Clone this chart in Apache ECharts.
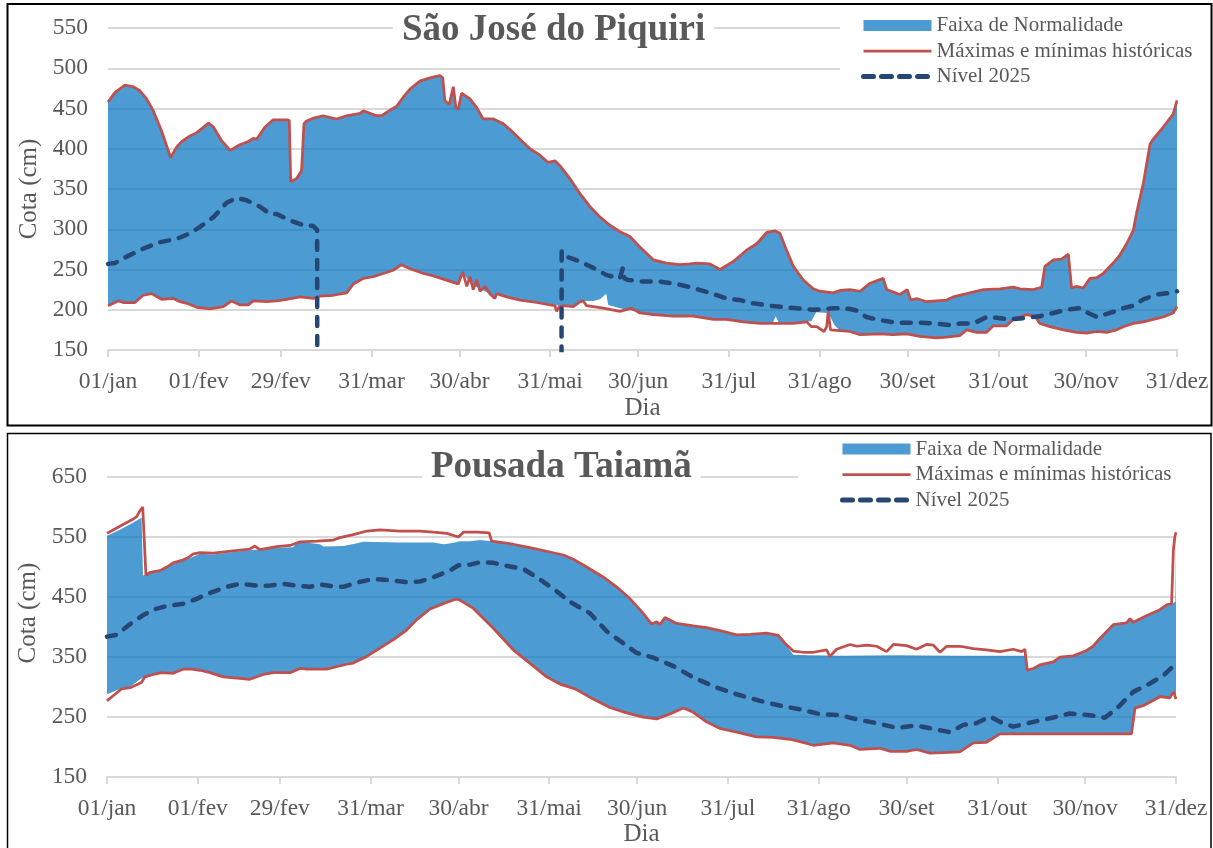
<!DOCTYPE html>
<html>
<head>
<meta charset="utf-8">
<script src="https://cdn.jsdelivr.net/npm/echarts@6/dist/echarts.min.js"></script>
<style>
  html, body { margin: 0; padding: 0; background: #fff; }
  #chart { width: 1213px; height: 848px; }
</style>
</head>
<body>
<div id="chart"></div>
<script>
// Day-of-year ticks (leap-year calendar) and their labels
const TICK_DAYS = [0, 31, 59, 90, 120, 151, 181, 212, 243, 273, 304, 334, 365];
const TICK_LABELS = ['01/jan', '01/fev', '29/fev', '31/mar', '30/abr', '31/mai', '30/jun',
                     '31/jul', '31/ago', '30/set', '31/out', '30/nov', '31/dez'];
const Y_TICKS_TAIAMA = [150, 250, 350, 450, 550, 650];

// ---- São José do Piquiri: [day, cota cm] ----
const SJP_MAX = [[0,458],[2.4,470],[5.8,479],[8.6,477],[10.9,472],[13.2,462],[15.5,447],[18.3,422],[21.4,389],[23.4,402],[25.2,409],[28,416],[30.3,420],[32,425],[34.3,432],[36,427],[38.8,410],[41.7,398],[45,405],[47.9,409],[49.6,413],[50.8,412],[53.6,427],[56.4,436],[61.2,436],[61.9,435],[62.4,359],[64.4,363],[66.1,373],[66.9,431],[67.6,434],[70.1,438],[73.5,441],[78,437],[81.5,441],[86,444],[87.2,447],[91.7,441],[93.4,441],[96.3,448],[98.6,453],[100.8,464],[103.1,474],[106.5,484],[109.9,488],[113.3,491],[114.3,488],[115,460],[116.5,455],[117.9,477],[118.8,451],[119.6,449],[120.7,469],[123.6,462],[125.9,451],[128.1,437],[131.6,437],[135,431],[138.4,420],[141.2,410],[144.1,400],[147.5,392],[150.3,383],[152.6,385],[154.3,379],[157.7,363],[161.2,344],[164.6,328],[168,315],[171.4,305],[174.8,297],[178.2,291],[181.6,278],[186.2,262],[190.7,258],[195.3,256],[198.7,257],[201,258],[205.5,257],[209,250],[213.5,260],[218,274],[221.5,282],[224.9,296],[227.7,298],[229.4,295],[231.7,274],[234,254],[237.4,237],[240.8,226],[243.1,223],[247.6,221],[249.9,224],[253.3,225],[256.8,223],[260.2,233],[264.7,239],[265.9,225],[270.4,219],[272.9,225],[274.1,212],[276.1,214],[279.5,210],[286.3,212],[288.6,216],[293.2,220],[298.9,225],[304.6,226],[309.1,228],[311.4,226],[315.9,225],[318.8,228],[319.9,254],[322.8,262],[325.6,263],[327.9,269],[329,227],[330.7,229],[333,227],[335.3,239],[337.6,240],[339.8,245],[343.2,258],[345.5,268],[347.8,282],[350.1,299],[351.2,320],[353.5,357],[355.8,406],[356.9,412],[360.3,427],[363.7,443],[365,460]];
const SJP_MIN = [[0,205],[3.5,211],[5.2,209],[9.2,209],[12,218],[14.9,220],[18.3,213],[22.3,214],[24.6,210],[26.9,208],[30.3,203],[34.8,201],[39.4,204],[42.2,211],[45.1,206],[47.9,206],[49.6,211],[54.2,210],[57.6,211],[61,213],[65.5,216],[70.1,214],[72.4,217],[76.9,218],[81.5,221],[83.8,232],[87.2,239],[90.6,241],[94,245],[97.4,249],[100.2,256],[103.1,251],[107.7,245],[111.1,242],[114.5,238],[117.9,234],[119.6,232],[121.1,247],[122.5,229],[123.6,241],[124.7,225],[125.9,237],[127,223],[128.7,229],[130.4,220],[132.1,214],[132.7,220],[136.1,216],[140.7,212],[146.4,209],[150.9,206],[152.6,205],[153.2,198],[154.1,204],[155.5,205],[158.9,204],[161.2,210],[162.3,211],[163.4,205],[169.1,202],[174.8,198],[178.8,202],[181.6,196],[186.2,194],[193,192],[199.8,192],[206.7,188],[211.2,188],[216.9,185],[222.6,183],[228.3,183],[234,183],[238.5,185],[240.2,179],[242,179],[244.5,173],[245.4,179],[245.9,198],[246.7,175],[249.9,174],[253.3,173],[256.8,169],[263.6,170],[268.1,169],[272.7,170],[277.2,167],[282.9,165],[286.3,166],[290.9,168],[293.2,175],[296.6,172],[300,172],[302.3,180],[306.8,180],[309.1,188],[312,192],[313.7,194],[316.5,192],[318.2,183],[321.6,179],[326.2,175],[330.7,172],[334.1,171],[337.6,173],[341,172],[344.4,175],[346.7,179],[350.1,183],[353.5,185],[356.9,188],[360.3,191],[363.7,196],[365,204]];
const SJP_FAIXA_SUP = SJP_MAX;
const SJP_FAIXA_INF = [[0,205],[3.5,211],[5.2,209],[9.2,209],[12,218],[14.9,220],[18.3,213],[22.3,214],[24.6,210],[26.9,208],[30.3,203],[34.8,201],[39.4,204],[42.2,211],[45.1,206],[47.9,206],[49.6,211],[54.2,210],[57.6,211],[61,213],[65.5,216],[70.1,214],[72.4,217],[76.9,218],[81.5,221],[83.8,232],[87.2,239],[90.6,241],[94,245],[97.4,249],[100.2,256],[103.1,251],[107.7,245],[111.1,242],[114.5,238],[117.9,234],[119.6,232],[121.1,246],[124,232],[127,226],[130.4,220],[132.1,214],[132.7,220],[136.1,216],[140.7,212],[146.4,209],[150.9,206],[155.5,205],[158.9,204],[161.2,211],[165.7,211],[168,213],[170.1,220],[170.8,206],[174.8,202],[181.6,197],[186.2,194],[193,192],[199.8,192],[206.7,188],[211.2,188],[216.9,185],[222.6,183],[227,184],[228,192],[229,184],[234,183],[238.5,185],[240.2,186],[241.8,197],[246,196],[248,181],[249.9,174],[253.3,173],[256.8,169],[263.6,170],[268.1,169],[272.7,170],[277.2,167],[282.9,165],[286.3,166],[290.9,168],[293.2,175],[296.6,172],[300,172],[302.3,180],[306.8,180],[309.1,188],[312,192],[313.7,194],[316.5,192],[318.2,183],[321.6,179],[326.2,175],[330.7,172],[334.1,171],[337.6,173],[341,172],[344.4,175],[346.7,179],[350.1,183],[353.5,185],[356.9,188],[360.3,191],[363.7,196],[365,204]];
// 0 = no reading (the line drops out of the visible range)
const SJP_NIVEL = [[0,257],[2.4,258],[6.4,266],[12.1,276],[17.8,284],[23.4,288],[28,295],[31.4,303],[36,315],[40.5,333],[43.9,339],[47.3,336],[51.9,328],[55.3,319],[57.6,319],[62.1,311],[66.7,305],[70.1,304],[71.4,299],[71.5,0],[154.8,0],[154.9,273],[156.6,266],[161.2,260],[165.7,252],[170.3,243],[174.8,239],[175.8,252],[176.3,239],[177.6,237],[182.8,235],[188.5,235],[194.2,232],[199.8,227],[205.5,221],[211.2,214],[215.8,212],[220.3,208],[226,205],[231.7,203],[237.4,201],[240.8,200],[245.4,201],[247.6,202],[253.3,201],[255.6,199],[259,191],[263.6,187],[269.3,184],[276.1,184],[281.8,183],[287.5,181],[290.9,183],[295.5,183],[300,191],[303.4,190],[308,188],[313.7,190],[318.2,192],[322.8,196],[327.3,200],[331.9,202],[334.1,197],[337.6,191],[342.1,196],[346.7,202],[350.1,205],[353.5,213],[358.1,219],[362.6,221],[365,223]];

// ---- Pousada Taiamã: [day, cota cm] ----
const PT_MAX = [[0,556],[4.4,568],[9,580],[10.1,584],[11.3,594],[12.2,600],[12.6,598],[13.3,486],[14.7,491],[18.1,494],[20.4,500],[22.6,507],[25.5,511],[27.8,516],[29.5,522],[31.8,524],[36.3,523],[43.1,527],[48.8,530],[50.5,535],[52.2,529],[57.9,534],[62.5,536],[65.9,542],[71.6,543],[77.3,545],[79.5,549],[84.1,554],[88.7,560],[93.2,562],[100,560],[106.9,560],[111.4,558],[116,556],[120,550],[121.7,558],[126.2,558],[130.5,557],[131.3,543],[138.7,538],[145.6,531],[151.2,525],[155.8,520],[159.2,513],[163.8,500],[169.5,483],[174,467],[178.6,447],[182.5,426],[186,405],[187.7,409],[188.8,404],[190.5,416],[194.5,406],[200.2,402],[204.7,399],[209.3,394],[215,387],[219.5,388],[225.2,390],[229.2,386],[231.5,373],[234.3,360],[237.7,358],[241.2,358],[245.7,362],[246.8,351],[249.1,363],[253.7,371],[256,368],[259.4,370],[262.8,368],[266.2,359],[268.5,371],[273,369],[276.4,363],[279.8,371],[282.1,370],[284.4,358],[286.7,368],[291.2,368],[295.8,364],[300.3,362],[304.9,359],[309.4,363],[312.3,359],[313.4,363],[314.2,328],[316.3,331],[318.5,337],[323.1,342],[325.4,350],[329.9,352],[334.5,361],[336.7,368],[339,381],[343.6,404],[348.1,407],[349.3,414],[350.4,408],[354.9,419],[359.5,429],[361.8,437],[363.5,439],[364.1,528],[364.6,550],[365,558]];
const PT_MIN = [[0,277],[2.2,286],[5,297],[7.9,299],[10.7,305],[11.8,308],[13,317],[15.8,321],[18.7,324],[22.6,323],[26.1,330],[28.9,330],[31.8,328],[35.2,324],[39.7,317],[44.3,315],[48.8,313],[53.4,321],[56.8,324],[62.5,324],[65.9,331],[68.2,330],[75,330],[81.8,338],[84.1,340],[88.7,351],[93.2,365],[97.8,379],[102.3,395],[105.7,412],[110.3,430],[114.8,439],[118.8,446],[120,446],[125.1,431],[131.9,398],[138.7,362],[145.6,335],[150.1,317],[154.7,305],[159.8,297],[166,280],[171.7,266],[177.4,257],[183.1,250],[187.7,247],[192.2,255],[196.8,265],[200.2,258],[204.7,242],[209.3,231],[215,225],[221.8,217],[227.5,216],[233.2,213],[236.6,209],[241.2,203],[248,207],[253.7,203],[257.1,196],[263.9,198],[267.3,193],[273,193],[276.4,196],[281,190],[291.2,192],[295.8,207],[300.3,208],[304.9,222],[349.8,222],[351,265],[353.8,269],[359.5,284],[362.9,282],[364.2,292],[365,280]];
const PT_FAIXA_SUP = [[0,552],[4.4,562],[9,574],[11,580],[11.8,582],[12.3,486],[14.7,490],[18.1,493],[22.6,505],[27.8,514],[31.8,522],[36.3,521],[43.1,525],[48.8,528],[57.9,532],[63.5,533],[64.8,540],[69.3,540],[72.7,538],[74,534],[80.7,535],[85,539],[87.5,542],[100,541],[111.4,541],[115,538],[118,540],[120.5,543],[124,543],[127.3,545],[131.3,543],[138.7,538],[145.6,531],[151.2,525],[155.8,520],[159.2,513],[163.8,500],[169.5,483],[174,467],[178.6,447],[182.5,426],[186,405],[187.7,409],[188.8,404],[190.5,416],[194.5,406],[200.2,402],[204.7,399],[209.3,394],[215,387],[219.5,388],[225.2,390],[229.2,386],[231.5,373],[234.3,354],[240,353],[250,352],[270,353],[290,352],[313.4,352],[314.2,328],[316.3,331],[318.5,337],[323.1,342],[325.4,350],[329.9,352],[334.5,361],[336.7,368],[339,381],[343.6,404],[348.1,407],[349.3,414],[350.4,408],[354.9,419],[359.5,429],[361.8,437],[363.5,439],[364.8,442],[365,552]];
const PT_FAIXA_INF = [[0,288],[5,298],[8,301],[11.3,313],[13,317],[15.8,321],[18.7,324],[22.6,323],[26.1,330],[28.9,330],[31.8,328],[35.2,324],[39.7,317],[44.3,315],[48.8,313],[53.4,321],[56.8,324],[62.5,324],[65.9,331],[68.2,330],[75,330],[81.8,338],[84.1,340],[88.7,351],[93.2,365],[97.8,379],[102.3,395],[105.7,412],[110.3,430],[114.8,439],[118.8,446],[120,446],[125.1,431],[131.9,398],[138.7,362],[145.6,335],[150.1,317],[154.7,305],[159.8,297],[166,280],[171.7,266],[177.4,257],[183.1,250],[187.7,247],[192.2,255],[196.8,265],[200.2,258],[204.7,242],[209.3,231],[215,225],[221.8,217],[227.5,216],[233.2,213],[236.6,209],[241.2,203],[248,207],[253.7,203],[257.1,196],[263.9,198],[267.3,193],[273,193],[276.4,196],[281,190],[291.2,192],[295.8,207],[300.3,208],[304.9,222],[349.8,222],[351,265],[353.8,269],[359.5,284],[362.9,282],[364.2,292],[365,280]];
const PT_NIVEL = [[0,384],[3.3,387],[6.1,398],[9,409],[12.4,420],[16.4,430],[20.4,435],[26.1,439],[30.6,447],[35.2,457],[40.9,467],[45.4,472],[51.1,469],[55.6,469],[60.2,472],[64.8,469],[69.3,467],[72.7,471],[77.3,468],[80.7,467],[85.2,474],[90.9,480],[96.6,478],[102.3,475],[106.9,476],[111.4,483],[117.1,494],[120,503],[124,504],[127.3,508],[131.9,507],[137.6,501],[142.1,497],[146.7,483],[152.4,464],[158.1,442],[164.9,423],[170.6,393],[176.3,373],[180.8,357],[186.5,349],[193.4,335],[200.2,316],[208.2,299],[215,288],[223,277],[229.8,269],[236.6,263],[243.4,255],[250.3,253],[257.1,245],[262.8,240],[269.6,232],[276.4,236],[283.3,229],[287.8,225],[292.4,237],[296.9,240],[301.5,251],[304.9,242],[309.4,234],[316.3,242],[322,248],[328.8,256],[335.6,253],[340.7,249],[344.7,264],[350.4,292],[356.1,306],[360.6,319],[365,339]];

// ---- styling ----
const FONT = "'Liberation Serif', 'Times New Roman', serif";
const TEXT = '#595959';
const GRID_LINE = '#d9d9d9';
const BAND = 'rgba(0,112,192,0.7)';
const RED = '#c0504d';
const NAVY = '#264673';
const CLEAR = 'rgba(0,0,0,0)';
const NAME_BAND = 'Faixa de Normalidade';
const NAME_EXT = 'Máximas e mínimas históricas';
const NAME_LVL = 'Nível 2025';

function xAxisFor(idx, nameGap) {
  return {
    type: 'value', gridIndex: idx, min: 0, max: 365,
    axisLine: { show: true, lineStyle: { color: GRID_LINE, width: 2 } },
    axisTick: { show: true, customValues: TICK_DAYS, length: 7, lineStyle: { color: GRID_LINE, width: 2 } },
    axisLabel: {
      customValues: TICK_DAYS,
      formatter: v => TICK_LABELS[TICK_DAYS.indexOf(v)] || '',
      margin: 20, fontFamily: FONT, fontSize: 23.5, color: TEXT
    },
    splitLine: { show: false },
    name: 'Dia', nameLocation: 'middle', nameGap: nameGap,
    nameTextStyle: { fontFamily: FONT, fontSize: 25, color: TEXT }
  };
}

function yAxisFor(idx, extra, namePad) {
  return Object.assign({
    type: 'value', gridIndex: idx,
    axisLine: { show: false },
    splitLine: { show: true, lineStyle: { color: GRID_LINE, width: 2 } },
    name: 'Cota (cm)', nameLocation: 'middle', nameGap: 62,
    nameTextStyle: { fontFamily: FONT, fontSize: 25, color: TEXT, padding: namePad }
  }, extra);
}

function panelSeries(idx, faixaSup, faixaInf, maxima, minima, nivel) {
  return [
    {
      type: 'custom', name: NAME_BAND, xAxisIndex: idx, yAxisIndex: idx,
      coordinateSystem: 'cartesian2d', silent: true, z: 1,
      itemStyle: { color: BAND },
      data: [[0, faixaInf[0][1]]],
      renderItem: function (params, api) {
        const pts = faixaSup.map(p => api.coord(p))
          .concat(faixaInf.slice().reverse().map(p => api.coord(p)));
        return { type: 'polygon', shape: { points: pts }, style: { fill: BAND } };
      }
    },
    {
      type: 'line', name: NAME_EXT, xAxisIndex: idx, yAxisIndex: idx, z: 3,
      data: maxima, symbol: 'none', silent: true,
      lineStyle: { color: RED, width: 2.75 }, itemStyle: { color: RED }
    },
    {
      type: 'line', name: NAME_EXT, xAxisIndex: idx, yAxisIndex: idx, z: 3,
      data: minima, symbol: 'none', silent: true,
      lineStyle: { color: RED, width: 2.75 }, itemStyle: { color: RED }
    },
    {
      type: 'line', name: NAME_LVL, xAxisIndex: idx, yAxisIndex: idx, z: 4,
      data: nivel, symbol: 'none', silent: true,
      lineStyle: { color: NAVY, width: 4.5, type: [9, 10], cap: 'round' }, itemStyle: { color: NAVY }
    }
  ];
}

function legendFor(left, top, padding) {
  return {
    orient: 'vertical', left: left, top: top, padding: padding,
    backgroundColor: '#fff', selectedMode: false,
    itemWidth: 68, itemHeight: 11, itemGap: 4.5,
    textStyle: { fontFamily: FONT, fontSize: 21, color: TEXT },
    data: [
      { name: NAME_BAND, icon: 'rect', itemStyle: { color: BAND } },
      { name: NAME_EXT,
        itemStyle: { color: CLEAR, borderColor: CLEAR, borderWidth: 0 },
        lineStyle: { color: RED, width: 2.75 } },
      { name: NAME_LVL,
        itemStyle: { color: CLEAR, borderColor: CLEAR, borderWidth: 0 },
        lineStyle: { color: NAVY, width: 5, type: [10, 8], cap: 'round' } }
    ]
  };
}

const chart = echarts.init(document.getElementById('chart'), null, { renderer: 'canvas' });
chart.setOption({
  animation: false,
  backgroundColor: '#fff',
  title: [
    { text: 'São José do Piquiri', left: 393, top: 10, padding: [2, 9, 2, 9], backgroundColor: '#fff',
      textStyle: { fontFamily: FONT, fontSize: 37, fontWeight: 'bold', color: TEXT } },
    { text: 'Pousada Taiamã', left: 422, top: 447, padding: [2, 9, 2, 9], backgroundColor: '#fff',
      textStyle: { fontFamily: FONT, fontSize: 37, fontWeight: 'bold', color: TEXT } }
  ],
  legend: [
    legendFor(840, 7, [8, 12, 4, 21]),
    legendFor(798, 435.5, [3, 12, 4, 42])
  ],
  grid: [
    { left: 108, top: 28, width: 1069, height: 322 },
    { left: 107, top: 477, width: 1069, height: 304 }
  ],
  xAxis: [xAxisFor(0, 46), xAxisFor(1, 36)],
  yAxis: [
    yAxisFor(0, {
      min: 150, max: 550, interval: 50,
      axisTick: { show: false },
      axisLabel: { margin: 20, fontFamily: FONT, fontSize: 23.5, color: TEXT }
    }, [0, 0, 0, 0]),
    yAxisFor(1, {
      min: 150, max: 650,
      axisTick: { show: false, customValues: Y_TICKS_TAIAMA },
      axisLabel: { customValues: Y_TICKS_TAIAMA, margin: 20, fontFamily: FONT, fontSize: 23.5, color: TEXT }
    }, [0, 0, 0, 28])
  ],
  series: panelSeries(0, SJP_FAIXA_SUP, SJP_FAIXA_INF, SJP_MAX, SJP_MIN, SJP_NIVEL)
    .concat(panelSeries(1, PT_FAIXA_SUP, PT_FAIXA_INF, PT_MAX, PT_MIN, PT_NIVEL)),
  graphic: [
    { type: 'rect', silent: true, z: 100,
      shape: { x: 7.5, y: 4, width: 1204, height: 421.5 },
      style: { fill: 'none', stroke: '#000', lineWidth: 2 } },
    { type: 'rect', silent: true, z: 100,
      shape: { x: 7.5, y: 433.5, width: 1203.5, height: 430 },
      style: { fill: 'none', stroke: '#000', lineWidth: 1.5 } }
  ]
});
</script>
</body>
</html>
